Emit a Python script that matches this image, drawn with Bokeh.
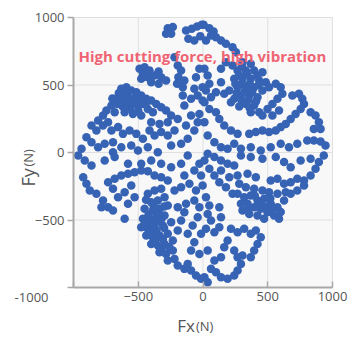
import math
from bokeh.plotting import figure
from bokeh.models import Label, FixedTicker, LinearAxis, BoxAnnotation, Range1d
from bokeh.embed import file_html
from bokeh.resources import INLINE

# Cutting force samples (N), grouped by quadrant
fx_q1 = [5, 49, 82, 100, 139, 177, 228, 254, 62, 23,
         11, 36, 49, 23, 62, 11, 49, 100, 126, 164, 216, 267, 139, 177, 228, 139, 164, 216, 100,
         305, 369, 267, 331, 395, 459, 241, 305, 369, 434, 485, 267, 331, 395, 459, 293, 357, 421, 331, 395, 369, 434, 241, 203,
         300, 340, 280, 420, 360, 300, 250, 430, 320, 380, 260, 350, 300, 410, 280, 360,
         510, 562, 600, 613, 575, 536, 498, 459, 536, 587,
         690, 741, 767, 780, 754, 715, 677, 639, 600, 562, 510, 459, 408, 357,
         831, 869, 895, 908, 856, 805, 856, 908, 946,
         88, 139, 190, 241, 293, 369, 446, 523, 600, 664, 728, 36, 11]
fy_q1 = [946, 921, 896, 854, 830, 805, 780, 743, 867, 830,
         620, 570, 509, 459, 410, 373, 323, 299, 249, 200, 163, 138, 620, 669, 645, 521, 435, 373, 447,
         669, 657, 607, 607, 607, 595, 546, 546, 546, 533, 521, 484, 484, 484, 459, 422, 422, 410, 360, 348, 299, 299, 398, 459,
         640, 580, 570, 570, 510, 510, 510, 500, 450, 450, 440, 390, 380, 380, 340, 330,
         484, 509, 484, 435, 398, 360, 323, 274, 274, 311,
         422, 435, 398, 360, 323, 286, 249, 212, 188, 163, 151, 163, 151, 138,
         299, 274, 225, 175, 175, 89, 89, 81, 52,
         76, 39, 27, 64, 27, 39, 15, 39, 64, 39, 64, 126, 225]

fx_q2 = [-272, -233, -285, -246, -131, -87, -46, -10, -113, -67, -21,
         -220,
         -490, -451, -413, -464, -426, -374, -477, -400, -343, -323, -285, -343,
         -195, -169, -190, -200, -144, -156, -54, -28,
         -631, -592, -554, -515, -477, -438, -400, -361, -323, -285, -656, -618, -579, -541, -502, -464, -426, -387,
         -707, -746, -682, -605, -541, -477, -772, -810,
         -650, -600, -560, -520, -480, -440, -500, -560, -620, -660, -700, -590,
         -861, -823, -772, -733, -707, -656, -618, -567, -515, -464, -413, -374, -323, -272, -220, -400, -336, -272,
         -246, -195, -900, -861, -810, -759, -695, -631, -554, -502, -426, -349, -938, -695, -246, -169, -118, -67,
         -41, -131, -28, -92, -144, -156, -92, -41, -3, -67, -3]
fy_q2 = [921, 929, 879, 879, 904, 916, 933, 946, 842, 830, 862,
         706,
         620, 632, 607, 583, 558, 570, 546, 521, 600, 558, 533, 509,
         645, 607, 558, 509, 533, 484, 558, 620,
         472, 484, 459, 447, 422, 398, 385, 360, 336, 311, 410, 385, 410, 373, 348, 360, 323, 299,
         348, 311, 299, 299, 286, 274, 274, 237,
         440, 430, 390, 410, 390, 370, 310, 330, 340, 360, 400, 350,
         200, 163, 200, 225, 163, 188, 138, 163, 138, 101, 163, 126, 151, 126, 163, 225, 212, 225,
         274, 249, 113, 76, 39, 64, 76, 39, 52, 15, 39, 2, 27, 2, 52, 64, 101, 163,
         225, 200, 286, 274, 348, 422, 398, 422, 385, 472, 484]

fx_q3 = [-964, -913, -861, -925, -900, -874, -823, -772, -733, -695, -605, -784, -759, -682,
         -682, -631, -579, -528, -477, -426, -374, -323, -272, -733, -695, -554, -605, -656, -528, -579,
         -579, -477, -400, -323, -246, -169, -118,
         -426, -374, -323, -400, -349, -297, -451, -387, -336, -272, -464, -413, -361, -297,
         -477, -426, -374, -310, -246, -438, -387, -336, -272, -400, -349, -297, -233,
         -336, -285, -233, -272, -220, -195, -144, -118, -92, -54, -15,
         -440, -380, -420, -340, -450, -400, -350, -410, -360, -310, -370, -320, -260, -300, -320, -300,
         -195, -169, -144, -195, -131, -67, -28, -41, -80, -118, -67, -15, -92, -28,
         -220, -169, -105, -54, -3, -144, -67, -15, -28]
fy_q3 = [-22, -59, -96, -183, -232, -281, -306, -356, -405, -430, -491, -405, -59, -34,
         -195, -170, -158, -146, -133, -138, -170, -183, -207, -220, -269, -244, -294, -331, -331, -380,
         -84, -84, -59, -84, -109, -84, -22,
         -306, -281, -269, -368, -356, -331, -417, -430, -417, -393, -491, -491, -479, -467,
         -553, -565, -553, -541, -516, -615, -627, -615, -602, -677, -689, -677, -652,
         -738, -751, -726, -800, -788, -837, -862, -825, -874, -911, -936,
         -350, -400, -460, -450, -520, -520, -510, -590, -580, -640, -650, -710, -700, -560, -490, -400,
         -578, -504, -442, -405, -380, -356, -405, -479, -541, -602, -664, -602, -726, -751,
         -281, -257, -232, -281, -244, -170, -133, -170, -84]

fx_q4 = [36, 88, 139, 190, 293, 369, 459, 562, 626, 677, 754, 831, 895, 933, 869, 831, 780, 728, 677, 626, 575, 523,
         267, 318, 369, 421, 472, 523, 575, 626, 677, 728, 780, 344, 395, 446, 498, 549, 587, 293, 305, 357, 421, 472,
         280, 331, 395, 459, 510, 575, 639,
         400, 450, 500, 540, 350, 600, 520,
         11, 49, 88, 126, 177, 228, 139, 203, 267, 344, 408, 241,
         23, 49, 36, 62, 23, 88, 126, 139, 126,
         216, 267, 318, 369, 408, 446, 421, 395, 369, 241, 267, 305, 293, 164, 190, 139, 88, 36,
         62, 100, 139, 190, 241, 267, 11, 36]
fy_q4 = [-10, -34, -59, -84, -22, -34, -47, -34, -71, -109, -59, -47, -71, -22, -121, -170, -207, -195, -220, -232, -195, -207,
         -306, -331, -318, -356, -343, -380, -405, -356, -306, -281, -244, -380, -405, -417, -442, -467, -491, -380, -430, -455, -467, -491,
         -232, -257, -269, -281, -294, -306, -294,
         -320, -380, -400, -420, -420, -440, -340,
         -59, -121, -170, -220, -257, -306, -133, -183, -170, -158, -183, -96,
         -331, -393, -455, -504, -565, -590, -553, -479, -405,
         -565, -590, -565, -602, -578, -627, -677, -726, -775, -726, -775, -763, -825, -701, -652, -775, -800, -726,
         -862, -887, -924, -936, -911, -874, -924, -961]

tick_values = [-1000, -500, 0, 500, 1000]
axis_min, axis_max = -1000, 1000
title_text = "High cutting force, high vibration"

fx = fx_q1 + fx_q2 + fx_q3 + fx_q4
fy = fy_q1 + fy_q2 + fy_q3 + fy_q4

# canvas 361x338; the data box spans pixels 73..332 horizontally and 17..287 vertically
W, H = 361, 338
L, R, T, B = 73, 332, 17, 287
sx = (axis_max - axis_min) / (R - L)
sy = (axis_max - axis_min) / (B - T)
x_range = Range1d(axis_min - L * sx, axis_max + (W - R) * sx)
y_range = Range1d(axis_min - (H - B) * sy, axis_max + T * sy)

p = figure(width=W, height=H, x_range=x_range, y_range=y_range,
           output_backend="svg", toolbar_location=None,
           x_axis_location=None, y_axis_location=None, min_border=0)
p.background_fill_color = "white"
p.border_fill_color = "white"
p.outline_line_color = None
p.grid.visible = False

p.add_layout(BoxAnnotation(left=axis_min, right=axis_max, bottom=axis_min, top=axis_max,
                           fill_color="#f8f8f8", fill_alpha=1, line_color="#e8e8e8",
                           line_width=1, level="underlay"))

# grid lines, confined to the data box
n = len(tick_values)
p.segment(x0=tick_values, y0=[axis_min] * n, x1=tick_values, y1=[axis_max] * n,
          line_color="#e0e0e0", line_width=1)
p.segment(x0=[axis_min] * n, y0=tick_values, x1=[axis_max] * n, y1=tick_values,
          line_color="#e0e0e0", line_width=1)

xaxis = LinearAxis(fixed_location=axis_min)
yaxis = LinearAxis(fixed_location=axis_min)
for ax in (xaxis, yaxis):
    ax.ticker = FixedTicker(ticks=tick_values)
    ax.bounds = (axis_min, axis_max)
    ax.major_label_overrides = {-1000: ""}
    ax.axis_line_color = "#a8a8a8"
    ax.axis_line_width = 2
    ax.major_tick_line_color = "#a8a8a8"
    ax.major_tick_line_width = 1.5
    ax.minor_tick_line_color = None
    ax.major_label_text_font = "Open Sans"
    ax.major_label_text_font_size = "13px"
    ax.major_label_text_color = "#555555"
xaxis.major_tick_in = 6
xaxis.major_tick_out = 0
xaxis.major_label_standoff = 4
yaxis.major_tick_in = 0
yaxis.major_tick_out = 6
yaxis.major_label_standoff = 3
p.add_layout(xaxis, "below")
p.add_layout(yaxis, "left")

p.scatter(fx, fy, size=8.5, color="#3763b5", line_color=None)

p.add_layout(Label(x=axis_min, y=axis_min, text="-1000", x_offset=-25, y_offset=-10,
                   text_align="right", text_baseline="middle", text_font="Open Sans",
                   text_font_size="13px", text_color="#555555"))

p.add_layout(Label(x=-961, y=718, text=title_text, text_align="left", text_baseline="alphabetic",
                   text_font="Open Sans", text_font_style="bold", text_font_size="15px",
                   text_color="#ef6473"))

# axis titles: large symbol, smaller unit
p.add_layout(Label(x=0, y=axis_min, text="Fx", x_offset=-8, y_offset=-38, text_align="right",
                   text_baseline="alphabetic", text_font="Open Sans", text_font_size="17px",
                   text_color="#555555"))
p.add_layout(Label(x=0, y=axis_min, text="(N)", x_offset=-7, y_offset=-38, text_align="left",
                   text_baseline="alphabetic", text_font="Open Sans", text_font_size="13px",
                   text_color="#555555"))
p.add_layout(Label(x=axis_min, y=0, text="Fy", x_offset=-46, y_offset=-34, angle=math.pi / 2,
                   text_align="left", text_baseline="alphabetic", text_font="Open Sans",
                   text_font_size="18px", text_color="#555555"))
p.add_layout(Label(x=axis_min, y=0, text="(N)", x_offset=-46, y_offset=-14, angle=math.pi / 2,
                   text_align="left", text_baseline="alphabetic", text_font="Open Sans",
                   text_font_size="13px", text_color="#555555"))

open("out.html", "w").write(file_html(p, INLINE))
